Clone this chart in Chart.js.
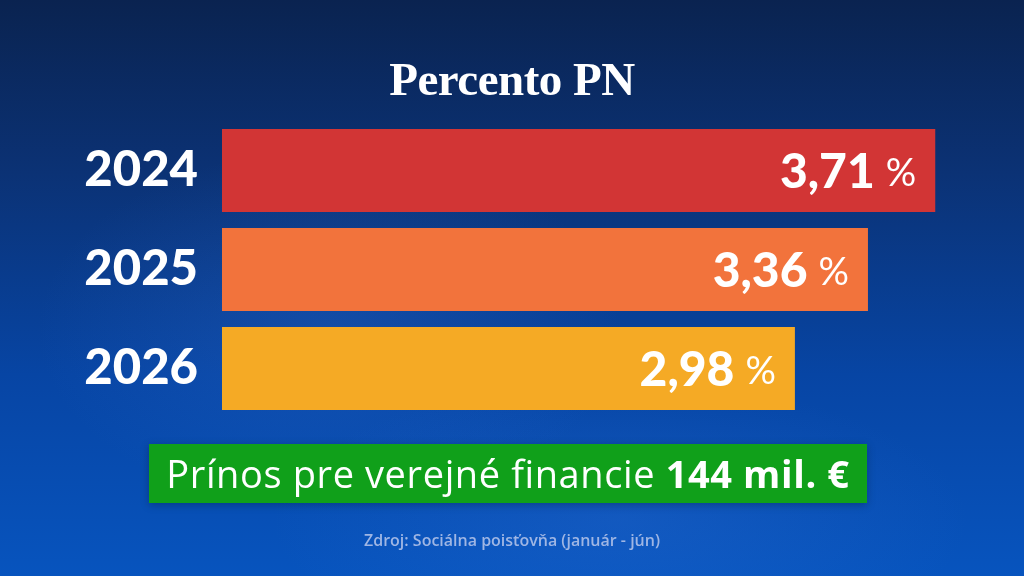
<!DOCTYPE html>
<html>
<head>
<meta charset="utf-8">
<script src="https://cdn.jsdelivr.net/npm/chart.js@4"></script>
<style>
  html, body { margin:0; padding:0; width:1024px; height:576px; overflow:hidden; }
  body {
    background:
      radial-gradient(ellipse 420px 260px at 330px 330px, rgba(60,120,220,0.22), rgba(0,0,0,0) 70%),
      radial-gradient(ellipse 500px 200px at 620px 520px, rgba(70,130,230,0.18), rgba(0,0,0,0) 70%),
      linear-gradient(to bottom, #0a2350 0%, #0b3275 30%, #0745a4 65%, #0754be 100%);
    position:relative;
  }
  #wrap { position:absolute; left:0; top:0; width:1024px; height:576px; }
  #title {
    position:absolute; left:0; width:1024px; top:52px; text-align:center;
    font-family:"Liberation Serif", serif; font-weight:bold; font-size:47px; color:#fff;
    letter-spacing:-0.5px;
  }
  #box {
    position:absolute; left:149px; top:444px; width:718px; height:59px;
    background:#10a01a; color:#fff; display:flex; align-items:center; justify-content:center;
    font-family:"Open Sans", sans-serif; font-size:38px; white-space:nowrap;
    box-shadow:0 2px 8px rgba(0,0,0,0.25);
  }
  #box span.inner { display:inline-block; position:relative; top:-1px; letter-spacing:0.6px; }
  #box b { font-weight:bold; }
  #source {
    position:absolute; left:0; width:1024px; top:529px; text-align:center;
    font-family:"Open Sans", sans-serif; font-weight:600; font-size:16px; color:#9fb6e4;
  }
</style>
</head>
<body>
<div id="wrap"><canvas id="c" width="1024" height="576"></canvas></div>
<div id="title">Percento PN</div>
<div id="box"><span class="inner">Prínos pre verejné financie <b>144 mil. €</b></span></div>
<div id="source"><span>Zdroj: Sociálna poisťovňa (január - jún)</span></div>
<script>
const categories = ["2024", "2025", "2026"];
const values = [3.71, 3.36, 2.98];
const valueLabels = ["3,71", "3,36", "2,98"];
const barColors = ["#d23535", "#f2733c", "#f5aa25"];

const valueLabelPlugin = {
  id: "valueLabels",
  afterDatasetsDraw(chart) {
    const ctx = chart.ctx;
    const meta = chart.getDatasetMeta(0);
    ctx.save();
    ctx.fillStyle = "#ffffff";
    ctx.textBaseline = "middle";
    meta.data.forEach((bar, i) => {
      const right = bar.x - 19;
      const y = bar.y + 2;
      ctx.font = "38px Lato, sans-serif";
      const pct = "%";
      const pw = ctx.measureText(pct).width;
      ctx.textAlign = "right";
      ctx.fillText(pct, right, y + 1);
      ctx.font = "900 48px Lato, sans-serif";
      ctx.fillText(valueLabels[i], right - pw - 11, y);
    });
    ctx.restore();
  }
};

new Chart(document.getElementById("c"), {
  type: "bar",
  data: {
    labels: categories,
    datasets: [{
      data: values,
      backgroundColor: barColors,
      borderWidth: 0,
      barPercentage: 0.838,
      categoryPercentage: 1.0
    }]
  },
  options: {
    indexAxis: "y",
    responsive: false,
    animation: false,
    devicePixelRatio: 1,
    layout: { padding: { top: 121, bottom: 158, left: 0, right: 33 } },
    plugins: { legend: { display: false }, tooltip: { enabled: false } },
    scales: {
      x: { display: false, min: 0, max: 4 },
      y: {
        grid: { display: false },
        border: { display: false },
        afterFit(scale) { scale.width = 222; },
        ticks: {
          color: "#ffffff",
          padding: 16,
          font: { family: "Lato, sans-serif", size: 49, weight: "900" }
        }
      }
    }
  },
  plugins: [valueLabelPlugin]
});
</script>
</body>
</html>
